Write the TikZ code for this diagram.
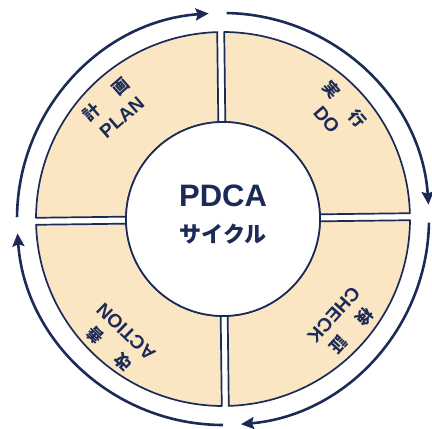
\documentclass[tikz,border=0pt]{standalone}
\usepackage{fontspec}
\setmainfont{Liberation Sans}
\newfontfamily\jpfont{Noto Sans CJK JP}
\usetikzlibrary{arrows.meta,calc}
\definecolor{navy}{RGB}{28,42,88}
\definecolor{beige}{RGB}{251,230,196}
\begin{document}
\begin{tikzpicture}[x=1pt,y=1pt,
  sectorbox/.style={draw=navy,fill=beige,line width=1.7pt,line join=round},
  cyclearrow/.style={draw=navy,line width=2.6pt,-{Stealth[length=13pt,width=12pt,inset=2pt]}},
  quadlabel/.style={text=navy,inner sep=0pt,align=center,font=\fontsize{19}{24}\selectfont\bfseries}]
\newcommand\jpline[2]{{\jpfont\fontsize{16.5}{24}\selectfont\bfseries #1\hspace{22pt}#2}}
\useasboundingbox (0,0) rectangle (432,429);
\coordinate (c) at (223,210);
% ring sectors
\foreach \k in {0,1,2,3}{
  \begin{scope}[shift={(c)},rotate=\k*90+0.7]
    \draw[sectorbox] (3.5,96.937) -- (3.5,186.967)
      arc[start angle=88.927,end angle=1.0725,radius=187pt]
      -- (96.937,3.5)
      arc[start angle=2.068,end angle=87.932,radius=97pt] -- cycle;
  \end{scope}
}
% centre
\draw[draw=navy,fill=white,line width=1.7pt] (c) circle[radius=97pt];
\node[text=navy,inner sep=0pt,font=\fontsize{31}{32}\selectfont\bfseries] (pdca) at ($(c)+(0,23)$) {PDCA};
\node[text=navy,inner sep=0pt,font=\jpfont\fontsize{22}{24}\selectfont\bfseries] (cycle) at ($(c)+(0,-15)$) {サイクル};
% cycle arrows
\draw[cyclearrow] ($(c)+(179.5:206)$) arc[start angle=179.5,end angle=94,radius=206pt];
\draw[cyclearrow] ($(c)+(89:206)$) arc[start angle=89,end angle=4,radius=206pt];
\draw[cyclearrow] ($(c)+(-1:206)$) arc[start angle=-1,end angle=-85,radius=206pt];
\draw[cyclearrow] ($(c)+(-90:206)$) arc[start angle=-90,end angle=-176,radius=206pt];
% labels
\node[quadlabel,rotate=41] (plan) at ($(c)+(134.5:156)$) {\jpline{計}{画}\\PLAN};
\node[quadlabel,rotate=-49] (do) at ($(c)+(43.5:156)$) {\jpline{実}{行}\\DO};
\node[quadlabel,rotate=-132] (check) at ($(c)+(-41:159)$) {\jpline{検}{証}\\CHECK};
\node[quadlabel,rotate=136] (action) at ($(c)+(-131:161)$) {\jpline{改}{善}\\ACTION};
\end{tikzpicture}
\end{document}
